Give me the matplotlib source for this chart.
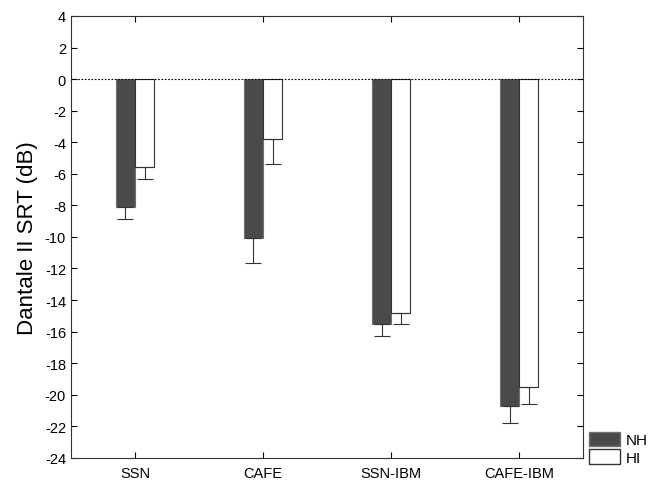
import numpy as np
import matplotlib.pyplot as plt
import matplotlib.patches as mpatches

plt.rcParams["font.family"] = ["Liberation Sans", "DejaVu Sans"]
plt.rcParams["axes.unicode_minus"] = False

conditions = ["SSN", "CAFE", "SSN-IBM", "CAFE-IBM"]
nh_mean = [-8.1, -10.1, -15.5, -20.7]
nh_err = [0.75, 1.55, 0.75, 1.1]
hi_mean = [-5.6, -3.8, -14.8, -19.5]
hi_err = [0.75, 1.6, 0.75, 1.1]

fig = plt.figure(figsize=(6.51, 4.85), dpi=100)
ax = fig.add_axes([0.109, 0.054, 0.787, 0.911])

x = np.arange(len(conditions))
w = 0.15
ax.bar(x - w / 2, nh_mean, width=w, color="#4a4a4a", edgecolor="#707070", lw=0.8, zorder=2)
ax.bar(x + w / 2, hi_mean, width=w, color="white", edgecolor="#333333", lw=0.8, zorder=2)
ax.errorbar(x - w / 2, nh_mean, yerr=[nh_err, np.zeros(4)], fmt="none", ecolor="#333333",
            elinewidth=0.8, capsize=6, capthick=0.8, zorder=3)
ax.errorbar(x + w / 2, hi_mean, yerr=[hi_err, np.zeros(4)], fmt="none", ecolor="#333333",
            elinewidth=0.8, capsize=6, capthick=0.8, zorder=3)
ax.axhline(0, color="black", lw=0.8, ls=(0, (1.5, 1.5)), zorder=4)

ax.set_xlim(-0.5, 3.5)
ax.set_ylim(-24, 4)
ax.set_yticks(np.arange(-24, 5, 2))
ax.set_xticks(x)
ax.set_xticklabels(conditions)
ax.tick_params(direction="in", top=True, right=True, labelsize=10.5, length=4, width=0.8)
ax.tick_params(axis="x", pad=6)
for s in ax.spines.values():
    s.set_linewidth(0.8)
    s.set_color("#333333")
ax.set_ylabel("Dantale II SRT (dB)", fontsize=16, labelpad=5)

ax.legend(handles=[mpatches.Patch(facecolor="#4a4a4a", edgecolor="#707070", label="NH"),
                   mpatches.Patch(facecolor="white", edgecolor="#333333", label="HI")],
          loc="lower left", bbox_to_anchor=(1.0, -0.03), frameon=False, fontsize=11,
          handlelength=2.0, handleheight=1.1, handletextpad=0.4, labelspacing=0.15,
          borderaxespad=0.2, borderpad=0.2)

fig.savefig("out.png", dpi=100, facecolor="white")
